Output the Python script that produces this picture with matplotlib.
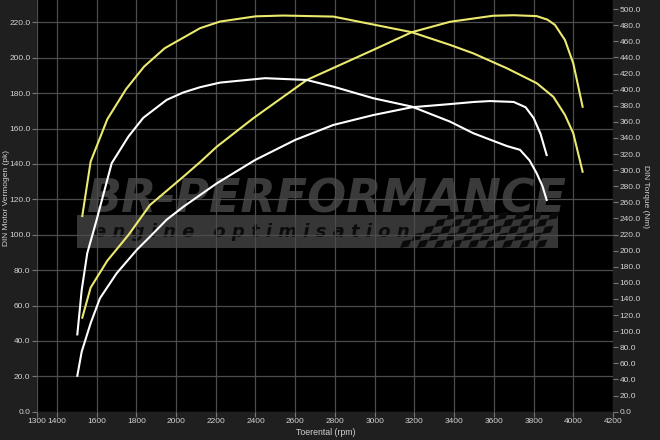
import matplotlib
matplotlib.use('Agg')
import matplotlib.pyplot as plt
from matplotlib.patches import Rectangle, Polygon

# stock (white) and tuned (yellow) curves
rpm_stock_pk = [1503, 1525, 1570, 1617, 1701, 1802, 1869, 1953, 2037, 2205, 2398, 2599, 2792,
                2993, 3187, 3380, 3500, 3581, 3700, 3760, 3800, 3835, 3866]
stock_pk = [20.3, 33.9, 50.0, 64.1, 78.2, 91.4, 98.9, 108.5, 115.8, 129.0, 142.2, 153.5, 162.0,
            167.6, 172.0, 173.8, 175.0, 175.5, 175.0, 172.0, 166.0, 157.0, 145.0]

rpm_stock_nm = [1503, 1525, 1553, 1600, 1676, 1760, 1835, 1953, 2037, 2121, 2221, 2448, 2658,
                2792, 2993, 3187, 3380, 3497, 3665, 3732, 3780, 3816, 3845, 3866]
stock_nm = [96.0, 151.0, 196.8, 238.0, 308.6, 341.6, 365.0, 387.3, 396.5, 403.0, 408.7, 414.2, 412.0,
            403.7, 389.3, 378.9, 360.2, 345.8, 330.0, 325.2, 312.0, 296.0, 280.0, 263.0]

rpm_tuned_pk = [1528, 1570, 1654, 1760, 1869, 2037, 2121, 2205, 2389, 2658, 2993, 3187, 3380,
                3596, 3700, 3816, 3870, 3908, 3958, 4000, 4047]
tuned_pk = [53.1, 70.1, 85.3, 99.8, 116.8, 132.8, 141.0, 149.7, 165.8, 187.4, 204.4, 214.4, 220.3,
            223.7, 224.0, 223.5, 221.5, 218.5, 210.0, 196.8, 172.3]

rpm_tuned_nm = [1528, 1570, 1654, 1748, 1839, 1943, 2121, 2221, 2400, 2540, 2792, 3002, 3187,
                3380, 3497, 3665, 3816, 3900, 3958, 4000, 4047]
tuned_nm = [243.0, 310.6, 363.2, 400.5, 428.6, 451.4, 476.3, 484.5, 491.0, 492.0, 490.7, 480.4, 471.3,
            455.5, 445.0, 426.6, 408.0, 391.0, 368.6, 345.8, 298.0]

x_ticks = [1300, 1400, 1600, 1800, 2000, 2200, 2400, 2600, 2800, 3000, 3200, 3400,
           3600, 3800, 4000, 4200]
pk_ticks = list(range(0, 221, 20))
nm_ticks = list(range(0, 501, 20))

plt.rcParams['font.family'] = ['Liberation Sans', 'DejaVu Sans']

W, H = 660, 440
L, R, B = 37, 613, 411.7
fig = plt.figure(figsize=(6.6, 4.4), dpi=100, facecolor='#1f1f1f')
ax = fig.add_axes([L / W, (H - B) / H, (R - L) / W, B / H])
ax.set_facecolor('black')
ax2 = ax.twinx()

txt = '#d2d2d2'
yellow = '#ecea6e'


def axc(x, y):
    # pixel position -> axes fraction, only for the watermark
    return ((x - L) / (R - L), (B - y) / B)


# watermark
bx0, by0 = axc(77, 248)
bx1, by1 = axc(558, 215)
ax.add_patch(Rectangle((bx0, by0), bx1 - bx0, by1 - by0, transform=ax.transAxes,
                       facecolor='#3d3d3d', edgecolor='none', alpha=0.9, zorder=1))
tx, ty = axc(86, 212)
ax.text(tx, ty, 'BR-PERFORMANCE', transform=ax.transAxes, fontsize=33, fontweight='bold',
        fontstyle='italic', family='DejaVu Sans', color='#3a3a3a', ha='left', va='baseline',
        zorder=1.2)
tx, ty = axc(94, 232)
ax.text(tx, ty, 'e n g i n e   o p t i m i s a t i o n', transform=ax.transAxes, fontsize=13,
        fontweight='bold', fontstyle='italic', family='DejaVu Sans', color='#0c0c0c',
        ha='left', va='center', zorder=1.2)
for r in range(5):
    for c in range(17):
        if (r + c) % 2:
            continue
        if c < 4 - r:
            continue
        x0 = 415 + c * 8.5 - r * 3
        y0 = 213 + r * 7
        pts = [axc(x0, y0), axc(x0 + 8.5, y0 - 1.5), axc(x0 + 5.5, y0 + 5.5), axc(x0 - 3, y0 + 7)]
        ax.add_patch(Polygon(pts, closed=True, transform=ax.transAxes, facecolor='#0a0a0a',
                             edgecolor='none', zorder=1.3))

ax.plot(rpm_stock_pk, stock_pk, color='white', lw=1.5, zorder=3)
ax.plot(rpm_tuned_pk, tuned_pk, color=yellow, lw=1.5, zorder=3)
ax2.plot(rpm_stock_nm, stock_nm, color='white', lw=1.5, zorder=3)
ax2.plot(rpm_tuned_nm, tuned_nm, color=yellow, lw=1.5, zorder=3)

ax.set_xlim(1300, 4200)
ax.set_ylim(0, 232.6)
ax2.set_ylim(0, 511.3)

ax.set_xticks(x_ticks)
ax.set_xticklabels([str(v) for v in x_ticks])
ax.set_yticks(pk_ticks)
ax.set_yticklabels(['%.1f' % v for v in pk_ticks])
ax2.set_yticks(nm_ticks)
ax2.set_yticklabels(['%.1f' % v for v in nm_ticks])

ax.grid(True, color='#4c4c4c', lw=0.9, zorder=1.5)
ax.set_axisbelow(False)
for a in (ax, ax2):
    for s in a.spines.values():
        s.set_visible(False)
    a.tick_params(colors='#777777', labelcolor=txt, labelsize=6, length=3.5, width=0.8, pad=1.2)

fig.text(325.5 / W, 1 - 432 / H, 'Toerental (rpm)', color=txt, fontsize=6.3, ha='center', va='center')
fig.text(6.5 / W, 1 - 198 / H, 'DIN Motor Vermogen (pk)', color=txt, fontsize=6, rotation=90,
         ha='center', va='center')
fig.text(646 / W, 1 - 196 / H, 'DIN Torque (Nm)', color=txt, fontsize=6, rotation=270,
         ha='center', va='center')

fig.savefig('out.png', dpi=100, facecolor=fig.get_facecolor())
